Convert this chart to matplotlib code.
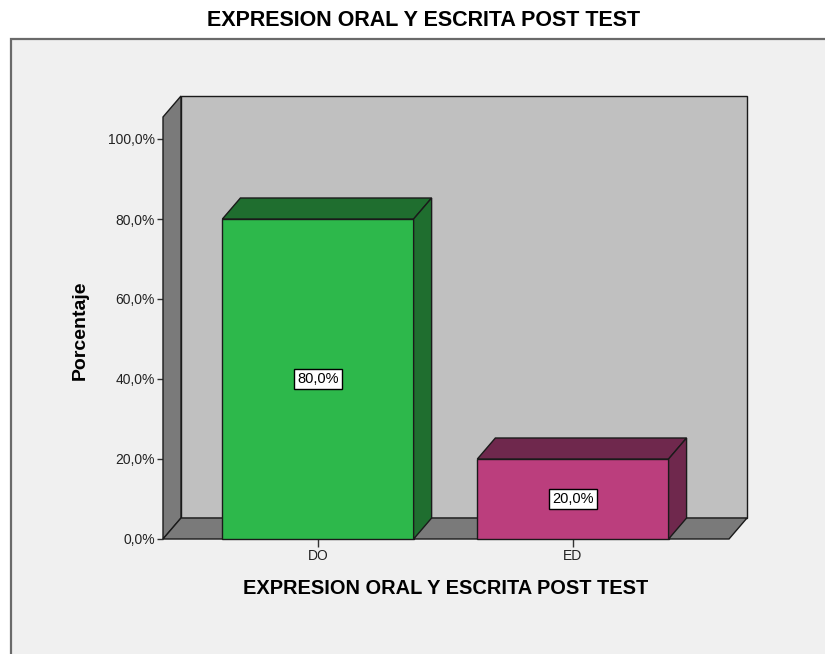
import matplotlib
matplotlib.use("Agg")
import matplotlib.pyplot as plt
from matplotlib.patches import Polygon, Rectangle

categories = ["DO", "ED"]
values = [80.0, 20.0]
value_labels = ["80,0%", "20,0%"]
yticks = [0, 20, 40, 60, 80, 100]
ytick_labels = ["0,0%", "20,0%", "40,0%", "60,0%", "80,0%", "100,0%"]
title = "EXPRESION ORAL Y ESCRITA POST TEST"
xlabel = "EXPRESION ORAL Y ESCRITA POST TEST"
ylabel = "Porcentaje"

front_colors = ["#2db84b", "#bb3e7d"]
dark_colors = ["#1f6e2f", "#6f284d"]
wall_back = "#c0c0c0"
wall_side = "#7a7a7a"
edge = "#1a1a1a"

plt.rcParams['font.family'] = ['Liberation Sans', 'DejaVu Sans']

W, H = 825, 654
fig = plt.figure(figsize=(W / 100, H / 100), dpi=100)
fig.patch.set_facecolor("white")

# outer frame
fig.patches.append(Rectangle((11 / W, -0.05), 1.2, (H - 39) / H + 0.05,
                             transform=fig.transFigure, facecolor="#f0f0f0",
                             edgecolor="#6a6a6a", linewidth=1.6, zorder=-5))

# axes in pixel layout
left_px, right_px = 163, 747
bottom_px, top_px = 539, 96
ax = fig.add_axes([left_px / W, (H - bottom_px) / H,
                   (right_px - left_px) / W, (bottom_px - top_px) / H])
ax.set_facecolor("none")
ax.set_zorder(2)

x0 = -0.608
x_front_right = 1.612
ytop_front = 105.5
px_per_pct = 4.0
ylim_top = (bottom_px - top_px) / px_per_pct
DY = 21 / px_per_pct
px_per_unit = 255.0
DX = 18 / px_per_unit
ax.set_xlim(x0, x_front_right + DX)
ax.set_ylim(0, ylim_top)

for s in ax.spines.values():
    s.set_visible(False)

lw = 1.0
# back wall
ax.add_patch(Polygon([(x0 + DX, DY), (x_front_right + DX, DY),
                      (x_front_right + DX, ytop_front + DY), (x0 + DX, ytop_front + DY)],
                     closed=True, facecolor=wall_back, edgecolor=edge, linewidth=lw, zorder=1,
                     clip_on=False))
# left wall
ax.add_patch(Polygon([(x0, 0), (x0 + DX, DY), (x0 + DX, ytop_front + DY), (x0, ytop_front)],
                     closed=True, facecolor=wall_side, edgecolor=edge, linewidth=lw, zorder=2,
                     clip_on=False))
# floor
ax.add_patch(Polygon([(x0, 0), (x_front_right, 0), (x_front_right + DX, DY), (x0 + DX, DY)],
                     closed=True, facecolor=wall_side, edgecolor=edge, linewidth=lw, zorder=2,
                     clip_on=False))

bw = 0.75
for i, (v, fc, dc, lab) in enumerate(zip(values, front_colors, dark_colors, value_labels)):
    xl, xr = i - bw / 2, i + bw / 2
    # front
    ax.add_patch(Rectangle((xl, 0), bw, v, facecolor=fc, edgecolor=edge, linewidth=lw, zorder=3,
                           clip_on=False))
    # top
    ax.add_patch(Polygon([(xl, v), (xr, v), (xr + DX, v + DY), (xl + DX, v + DY)],
                         closed=True, facecolor=dc, edgecolor=edge, linewidth=lw, zorder=3,
                         clip_on=False))
    # side
    ax.add_patch(Polygon([(xr, 0), (xr + DX, DY), (xr + DX, v + DY), (xr, v)],
                         closed=True, facecolor=dc, edgecolor=edge, linewidth=lw, zorder=3,
                         clip_on=False))
    ax.text(i, v / 2, lab, ha="center", va="center", fontsize=10.5, zorder=5,
            bbox=dict(boxstyle="square,pad=0.2", facecolor="white", edgecolor="black", linewidth=1))

ax.set_yticks(yticks)
ax.set_yticklabels(ytick_labels, fontsize=10, color="#222222")
ax.set_xticks(range(len(categories)))
ax.set_xticklabels(categories, fontsize=10, color="#222222")
ax.tick_params(axis="y", direction="out", length=4.5, width=1, color="#333333", pad=1.5)
ax.tick_params(axis="x", direction="out", length=5.5, width=1, color="#333333", pad=2)

fig.text(424 / W, 1 - 21 / H, title, ha="center", va="center", fontsize=15.5, fontweight="bold")
fig.text(445.5 / W, 1 - 589 / H, xlabel, ha="center", va="center", fontsize=14.4, fontweight="bold")
fig.text(80 / W, 1 - 330 / H, ylabel, ha="center", va="center", rotation=90, fontsize=14, fontweight="bold")

fig.savefig("out.png", dpi=100, facecolor=fig.get_facecolor())
